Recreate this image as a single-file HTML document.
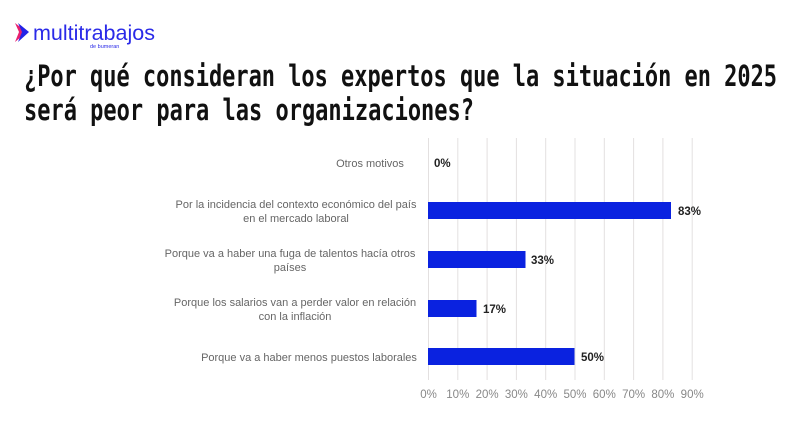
<!DOCTYPE html>
<html><head><meta charset="utf-8"><style>
html,body{margin:0;padding:0;background:#fff;}
svg{display:block}
</style></head><body>
<svg width="800" height="426" viewBox="0 0 800 426" xmlns="http://www.w3.org/2000/svg">
<rect width="800" height="426" fill="#fff"/>
<!-- logo -->
<path d="M15 23 L27 32 L15 42 L19 32 Z" fill="#e8206e"/>
<path d="M18 23 L29 32 L18 42 L22 32 Z" fill="#2323e6"/>
<text x="33" y="40" font-family="Liberation Sans, sans-serif" font-size="21" fill="#2a2ae8" textLength="122" lengthAdjust="spacingAndGlyphs">multitrabajos</text>
<text x="90" y="48" font-family="Liberation Sans, sans-serif" font-size="5.5" fill="#2a2ae8">de bumeran</text>
<!-- title -->
<g font-family="DejaVu Sans Mono, Liberation Mono, monospace" font-weight="bold" font-size="29" fill="#111">
<text x="24" y="86" textLength="753" lengthAdjust="spacingAndGlyphs">¿Por qué consideran los expertos que la situación en 2025</text>
<text x="24" y="120" textLength="450" lengthAdjust="spacingAndGlyphs">será peor para las organizaciones?</text>
</g>
<!-- grid -->
<g stroke="#e3e0e0" stroke-width="1">
<line x1="428.5" y1="138" x2="428.5" y2="380"/>
<line x1="457.8" y1="138" x2="457.8" y2="380"/>
<line x1="487.1" y1="138" x2="487.1" y2="380"/>
<line x1="516.4" y1="138" x2="516.4" y2="380"/>
<line x1="545.7" y1="138" x2="545.7" y2="380"/>
<line x1="575" y1="138" x2="575" y2="380"/>
<line x1="604.3" y1="138" x2="604.3" y2="380"/>
<line x1="633.6" y1="138" x2="633.6" y2="380"/>
<line x1="662.9" y1="138" x2="662.9" y2="380"/>
<line x1="692.2" y1="138" x2="692.2" y2="380"/>
</g>
<g font-family="Liberation Sans, sans-serif" font-size="11.5" fill="#888" text-anchor="middle">
<text x="428.5" y="398">0%</text><text x="457.8" y="398">10%</text><text x="487.1" y="398">20%</text>
<text x="516.4" y="398">30%</text><text x="545.7" y="398">40%</text><text x="575" y="398">50%</text>
<text x="604.3" y="398">60%</text><text x="633.6" y="398">70%</text><text x="662.9" y="398">80%</text>
<text x="692.2" y="398">90%</text>
</g>
<!-- bars -->
<g fill="#0a22e0">
<rect x="428" y="202" width="243" height="17"/>
<rect x="428" y="251" width="97.5" height="17"/>
<rect x="428" y="300" width="48.5" height="17"/>
<rect x="428" y="348" width="146.5" height="17"/>
</g>
<g font-family="Liberation Sans, sans-serif" font-size="11.5" font-weight="bold" fill="#222">
<text x="434" y="167">0%</text>
<text x="678" y="215">83%</text>
<text x="531" y="264">33%</text>
<text x="483" y="313">17%</text>
<text x="581" y="361">50%</text>
</g>
<!-- labels -->
<g font-family="Liberation Sans, sans-serif" font-size="11" fill="#666" text-anchor="middle">
<text x="370" y="167">Otros motivos</text>
<text x="296" y="208">Por la incidencia del contexto económico del país</text>
<text x="296" y="222">en el mercado laboral</text>
<text x="290" y="257">Porque va a haber una fuga de talentos hacía otros</text>
<text x="290" y="271">países</text>
<text x="295" y="306">Porque los salarios van a perder valor en relación</text>
<text x="295" y="320">con la inflación</text>
<text x="309" y="361">Porque va a haber menos puestos laborales</text>
</g>
</svg>
</body></html>
